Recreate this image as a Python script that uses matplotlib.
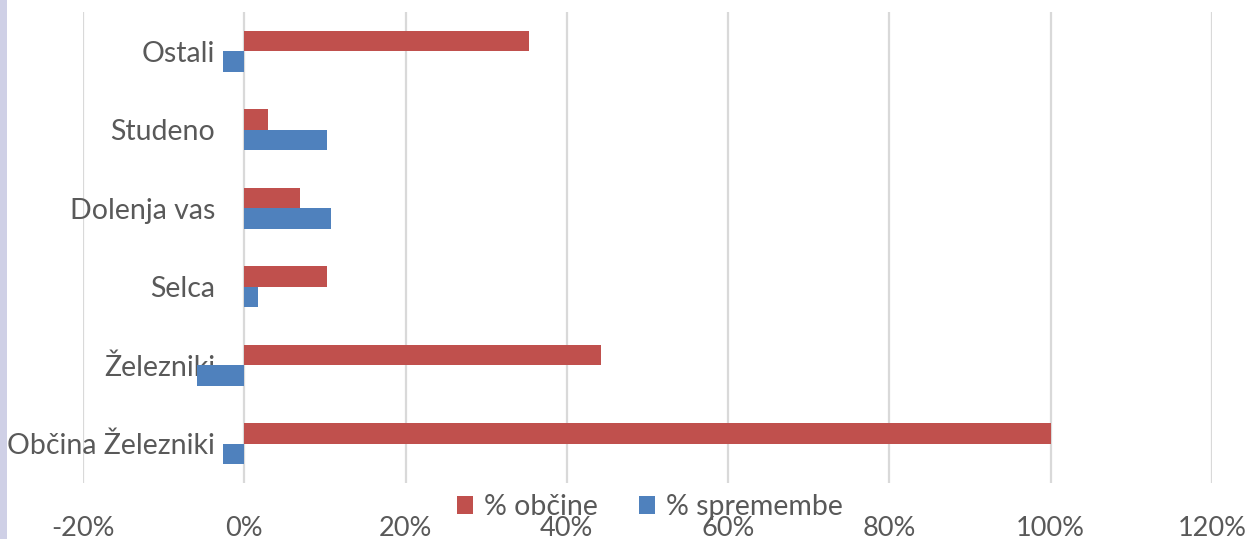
import matplotlib
matplotlib.use("Agg")
import matplotlib.pyplot as plt
from matplotlib.patches import Rectangle
from matplotlib.ticker import FuncFormatter
import numpy as np

categories = ["Občina Železniki", "Železniki", "Selca", "Dolenja vas", "Studeno", "Ostali"]
pct_obcine = [100.0, 44.2, 10.3, 6.9, 3.0, 35.3]
pct_spremembe = [-2.7, -5.9, 1.7, 10.8, 10.3, -2.7]
series_names = ["% občine", "% spremembe"]
xticks = [-20, 0, 20, 40, 60, 80, 100, 120]

RED = "#C0504D"
BLUE = "#4F81BD"
GRID = "#D9D9D9"
TXT = "#595959"

plt.rcParams['font.family'] = ['Lato', 'DejaVu Sans']

W, H = 1251, 539
fig = plt.figure(figsize=(W / 100, H / 100), dpi=100)
fig.patch.set_facecolor("white")
fig.patches.append(Rectangle((0, 0), 7 / W, 1, transform=fig.transFigure,
                             facecolor="#CFD0E6", edgecolor="none", zorder=0))

ax = fig.add_axes([83 / W, (H - 483) / H, (1212 - 83) / W, (483 - 12) / H])
y = np.arange(len(categories))
h = 0.26
ax.barh(y + h / 2, pct_obcine, height=h, color=RED, label=series_names[0], zorder=3)
ax.barh(y - h / 2, pct_spremembe, height=h, color=BLUE, label=series_names[1], zorder=3)

ax.set_xlim(-20, 120)
ax.set_ylim(-0.5, len(categories) - 0.5)
ax.set_xticks(xticks)
ax.xaxis.set_major_formatter(FuncFormatter(lambda v, p: f"{v:.0f}%"))
ax.grid(axis="x", color=GRID, linewidth=1.6, zorder=0)
ax.set_axisbelow(True)
for s in ax.spines.values():
    s.set_visible(False)
ax.spines['left'].set_position(('data', 0))
ax.set_yticks(y)
ax.set_yticklabels(categories)
ax.tick_params(axis="y", length=0, pad=21, labelsize=20.5, labelcolor=TXT)
ax.tick_params(axis="x", length=0, pad=24, labelsize=19.5, labelcolor=TXT)

leg = fig.legend(loc="center", bbox_to_anchor=(650 / W, 32 / H), ncol=2, frameon=False,
                 fontsize=20.5, handlelength=0.55, handleheight=0.55, handletextpad=0.4,
                 columnspacing=1.45, labelcolor=TXT)

fig.savefig("out.png", dpi=100)
